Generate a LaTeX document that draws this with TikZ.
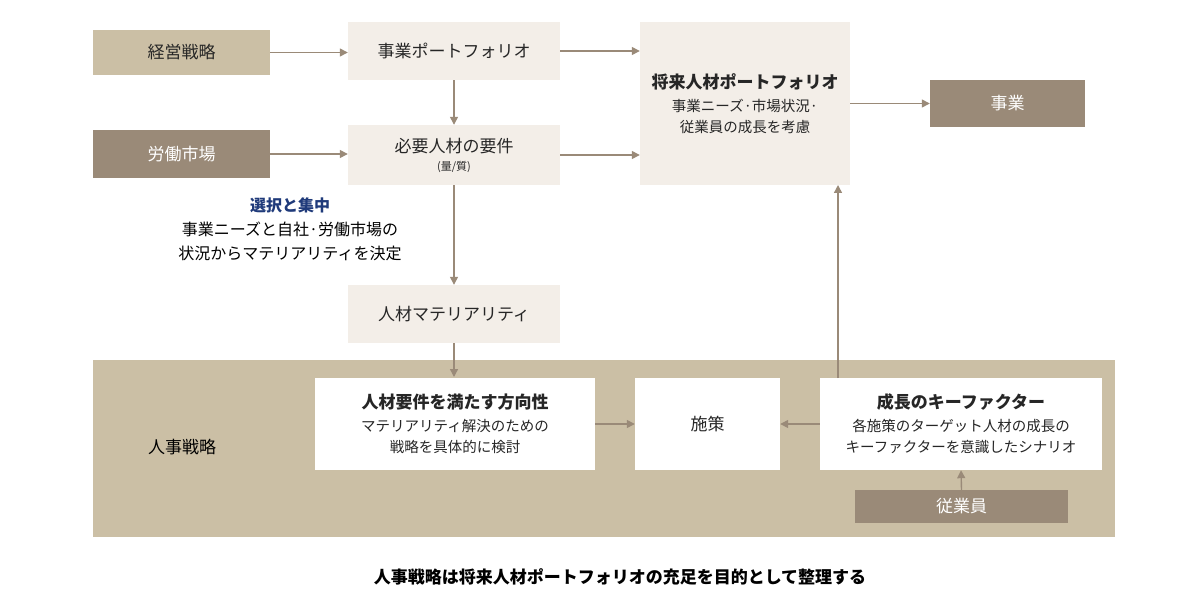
\documentclass[tikz,border=0pt]{standalone}
\usepackage{fontspec}
\setmainfont{Noto Sans CJK JP}
\usetikzlibrary{arrows.meta}
\definecolor{tanl}{HTML}{CBBFA5}
\definecolor{tand}{HTML}{9A8A78}
\definecolor{pale}{HTML}{F3EEE8}
\definecolor{navy}{HTML}{1F3A7A}
\definecolor{arr}{HTML}{9A8A78}
\newcommand{\subf}{\fontsize{14.5}{19}\selectfont}
\begin{document}
\begin{tikzpicture}[x=1pt,y=-1pt,
 box/.style={draw=none,minimum width=#1,inner sep=0pt,align=center,font=\fontsize{17}{21}\selectfont,text=black!85},
 ar/.style={draw=arr,line width=1.4pt,-{Triangle[length=8pt,width=8pt]}}]
\useasboundingbox (0,0) rectangle (1200,615);
\fill[tanl] (93,360) rectangle (1115,537);
\node[box=177,fill=tanl,minimum height=45] (ks) at (181.5,52.5) {経営戦略};
\node[box=177,fill=tand,minimum height=48,text=white] (rs) at (181.5,154) {労働市場};
\node[box=212,fill=pale,minimum height=58] (jp) at (454,51) {事業ポートフォリオ};
\node[box=212,fill=pale,minimum height=60] (hy) at (454,155) {必要人材の要件\\[-3pt]\fontsize{11}{13}\selectfont (量/質)};
\node[box=210,fill=pale,minimum height=163] (sj) at (745,103.5) {\textbf{将来人材ポートフォリオ}\\[2pt]\subf 事業ニーズ·市場状況·\\\subf 従業員の成長を考慮};
\node[box=155,fill=tand,minimum height=47,text=white] (jg) at (1007.5,103.5) {事業};
\node[align=center,font=\fontsize{16}{24}\selectfont] (sk) at (290,229) {\textcolor{navy}{\textbf{選択と集中}}\\事業ニーズと自社·労働市場の\\状況からマテリアリティを決定};
\node[box=212,fill=pale,minimum height=58] (jm) at (454,314) {人材マテリアリティ};
\node[font=\fontsize{17}{21}\selectfont] (hs) at (182,447) {人事戦略};
\node[box=280,fill=white,minimum height=92] (hk) at (455,424) {\textbf{人材要件を満たす方向性}\\[2pt]\subf マテリアリティ解決のための\\\subf 戦略を具体的に検討};
\node[box=145,fill=white,minimum height=92] (ss) at (707.5,424) {施策};
\node[box=282,fill=white,minimum height=92] (sc) at (961,424) {\textbf{成長のキーファクター}\\[2pt]\subf 各施策のターゲット人材の成長の\\\subf キーファクターを意識したシナリオ};
\node[box=213,fill=tand,minimum height=33,text=white] (jy) at (961.5,506.5) {従業員};
\node[font=\bfseries\fontsize{17}{21}\selectfont] (cap) at (620,577) {人事戦略は将来人材ポートフォリオの充足を目的として整理する};
\coordinate (bandtop) at (454,377);
\coordinate (up1) at (838,378);
\coordinate (up2) at (838,185);
\draw[ar] (ks.east) -- (jp.west|-ks.east);
\draw[ar] (rs.east) -- (hy.west|-rs.east);
\draw[ar] (jp.east) -- (sj.west|-jp.east);
\draw[ar] (hy.east) -- (sj.west|-hy.east);
\draw[ar] (sj.east|-jg.west) -- (jg.west);
\draw[ar] (jp) -- (hy);
\draw[ar] (hy) -- (jm);
\draw[ar] (jm.south) -- (bandtop);
\draw[ar] (hk) -- (ss);
\draw[ar] (sc) -- (ss);
\draw[ar] (up1) -- (up2);
\draw[ar] (jy.north) -- (sc.south);
\end{tikzpicture}
\end{document}
